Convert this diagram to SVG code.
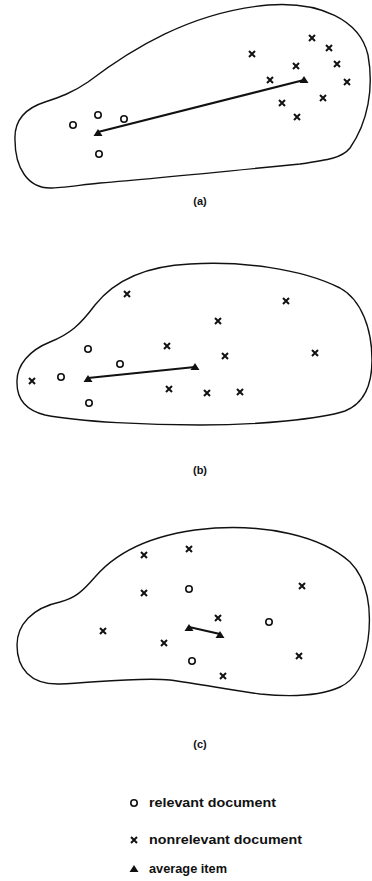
<svg xmlns="http://www.w3.org/2000/svg" xmlns:xlink="http://www.w3.org/1999/xlink" width="372" height="881" viewBox="0 0 372 881">
<style>
.blob{fill:none;stroke:#111;stroke-width:1.4}
.lbl{font-family:"Liberation Sans",Arial,sans-serif;font-size:11px;font-weight:bold;fill:#111;text-anchor:middle}
.leg{font-family:"Liberation Sans",Arial,sans-serif;font-size:12.5px;font-weight:bold;fill:#111}
.link{stroke:#111;stroke-width:2.2;fill:none}
</style>
<defs>
<g id="xm"><path d="M-3,-3 L3,3 M3,-3 L-3,3" stroke="#111" stroke-width="2" fill="none"/></g>
<circle id="om" r="3.2" fill="none" stroke="#111" stroke-width="1.6"/>
<path id="tri" d="M0,-4 L4.5,3 L-4.5,3 Z" fill="#111"/>
</defs>
<rect width="372" height="881" fill="#fff"/>

<g id="panel-a">
<path class="blob" d="M15,140 C14,120 26,108 45,102 C60,97 72,93 88,82 C130,50 190,12 268,5 C320,1 360,20 368,55 C374,88 368,122 350,148 C342,158 328,160 300,164 C250,169 150,179 100,183 C80,185 60,188 50,188 C28,188 15,168 15,140 Z"/>
<g id="links-a"><line class="link" x1="98" y1="132" x2="304" y2="80"/></g>
<g id="a-rel"><use xlink:href="#om" x="73" y="125"/><use xlink:href="#om" x="98" y="115"/><use xlink:href="#om" x="124" y="119"/><use xlink:href="#om" x="99" y="154"/></g>
<g id="a-non"><use xlink:href="#xm" x="252" y="54"/><use xlink:href="#xm" x="312" y="38"/><use xlink:href="#xm" x="329" y="48"/><use xlink:href="#xm" x="296" y="66"/><use xlink:href="#xm" x="337" y="64"/><use xlink:href="#xm" x="270" y="80"/><use xlink:href="#xm" x="347" y="82"/><use xlink:href="#xm" x="323" y="98"/><use xlink:href="#xm" x="282" y="103"/><use xlink:href="#xm" x="297" y="117"/></g>
<g id="a-avg"><use xlink:href="#tri" x="98" y="133"/><use xlink:href="#tri" x="304" y="80"/></g>
<text class="lbl" x="200" y="205">(a)</text>
</g>

<g id="panel-b">
<path class="blob" d="M17,383 C16,365 30,350 50,342 C70,334 80,325 95,305 C115,280 145,266 190,264 C240,261 300,268 340,288 C362,300 372,330 372,360 C372,390 360,405 345,411 C320,419 260,425 200,425 C150,425 80,422 45,415 C25,410 17,398 17,383 Z"/>
<g id="links-b"><line class="link" x1="88" y1="378" x2="195" y2="367"/></g>
<g id="b-rel"><use xlink:href="#om" x="88" y="349"/><use xlink:href="#om" x="120" y="364"/><use xlink:href="#om" x="61" y="377"/><use xlink:href="#om" x="89" y="403"/></g>
<g id="b-non"><use xlink:href="#xm" x="127" y="294"/><use xlink:href="#xm" x="286" y="301"/><use xlink:href="#xm" x="218" y="321"/><use xlink:href="#xm" x="167" y="346"/><use xlink:href="#xm" x="225" y="356"/><use xlink:href="#xm" x="315" y="353"/><use xlink:href="#xm" x="32" y="381"/><use xlink:href="#xm" x="169" y="389"/><use xlink:href="#xm" x="207" y="393"/><use xlink:href="#xm" x="240" y="392"/></g>
<g id="b-avg"><use xlink:href="#tri" x="88" y="379"/><use xlink:href="#tri" x="195" y="367"/></g>
<text class="lbl" x="200" y="474">(b)</text>
</g>

<g id="panel-c">
<path class="blob" d="M17,645 C17,625 32,608 60,602 C75,598 82,592 95,577 C120,548 160,532 215,528 C265,525 320,535 350,562 C368,580 372,610 368,640 C364,665 355,680 340,687 C320,696 290,697 260,694 C230,690 200,684 170,680 C140,677 100,682 60,684 C30,685 17,668 17,645 Z"/>
<g id="links-c"><line class="link" x1="189" y1="627" x2="220" y2="634"/></g>
<g id="c-rel"><use xlink:href="#om" x="189" y="589"/><use xlink:href="#om" x="269" y="622"/><use xlink:href="#om" x="192" y="661"/></g>
<g id="c-non"><use xlink:href="#xm" x="144" y="555"/><use xlink:href="#xm" x="189" y="549"/><use xlink:href="#xm" x="144" y="593"/><use xlink:href="#xm" x="302" y="586"/><use xlink:href="#xm" x="103" y="631"/><use xlink:href="#xm" x="218" y="618"/><use xlink:href="#xm" x="164" y="643"/><use xlink:href="#xm" x="299" y="656"/><use xlink:href="#xm" x="223" y="676"/></g>
<g id="c-avg"><use xlink:href="#tri" x="189" y="628"/><use xlink:href="#tri" x="220" y="635"/></g>
<text class="lbl" x="200" y="748">(c)</text>
</g>

<g id="legend">
<g id="leg-rel"><use xlink:href="#om" x="134" y="803"/><text class="leg" x="149" y="807" textLength="127" lengthAdjust="spacingAndGlyphs">relevant document</text></g>
<g id="leg-non"><use xlink:href="#xm" x="134" y="840"/><text class="leg" x="149" y="844" textLength="153" lengthAdjust="spacingAndGlyphs">nonrelevant document</text></g>
<g id="leg-avg"><use xlink:href="#tri" x="134" y="869"/><text class="leg" x="149" y="873" textLength="78" lengthAdjust="spacingAndGlyphs">average item</text></g>
</g>
</svg>
